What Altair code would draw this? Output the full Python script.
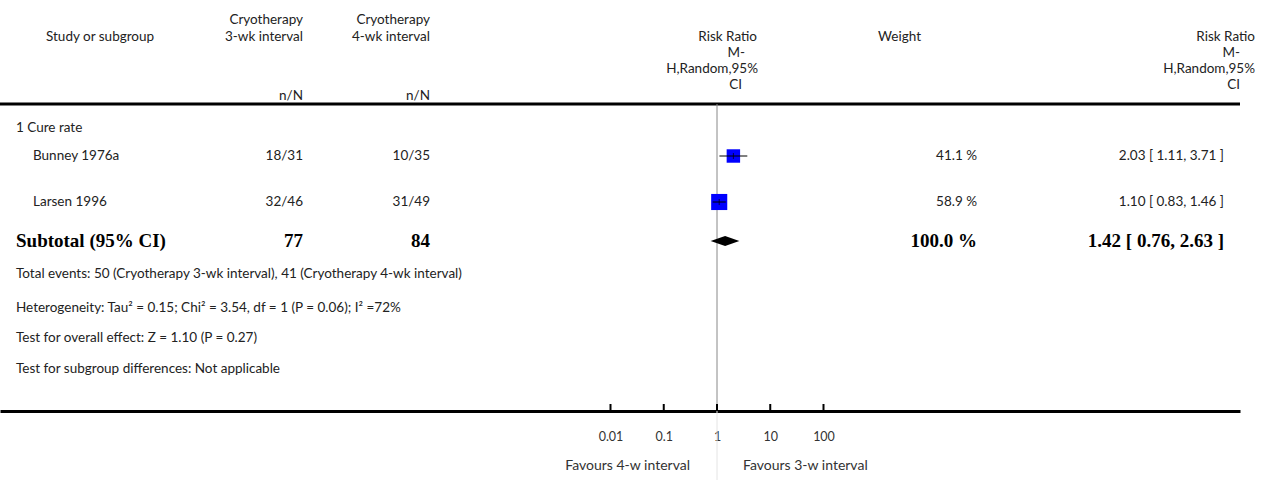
import altair as alt
import pandas as pd

# ---- study data -------------------------------------------------------
studies = ["Bunney 1976a", "Larsen 1996"]
events_3wk = [18, 32]
total_3wk = [31, 46]
events_4wk = [10, 31]
total_4wk = [35, 49]
risk_ratio = [2.03, 1.10]
ci_low = [1.11, 0.83]
ci_high = [3.71, 1.46]
weight_pct = [41.1, 58.9]

pooled_rr = 1.42
pooled_low = 0.76
pooled_high = 2.63

tick_values = [0.01, 0.1, 1, 10, 100]

heterogeneity = "Heterogeneity: Tau\u00b2 = 0.15; Chi\u00b2 = 3.54, df = 1 (P = 0.06); I\u00b2 =72%"
overall_effect = "Test for overall effect: Z = 1.10 (P = 0.27)"
subgroup_diff = "Test for subgroup differences: Not applicable"

# ---- layout -----------------------------------------------------------
W, H = 1240, 411
study_rows = [156, 202]
subtotal_row = 241
COL_N3, COL_N4, COL_W, COL_RR = 303, 430, 977, 1224
FONT = "Lato"
INK = "#222222"

# log scale placed so that RR = 1 sits at x = 717 and one decade spans ~53 px
decade = 53.25
one_px = 717
dom = [10 ** (-one_px / decade), 10 ** ((W - one_px) / decade)]
xscale = alt.Scale(type="log", domain=dom, nice=False, zero=False)

texts = []


def put(t, x, y, align="left", style="plain"):
    texts.append({"t": t, "x": x, "y": y, "align": align, "style": style})


# header
put("Study or subgroup", 46, 37)
put("Cryotherapy", COL_N3, 20, "right")
put("3-wk interval", COL_N3, 37, "right")
put("Cryotherapy", COL_N4, 20, "right")
put("4-wk interval", COL_N4, 37, "right")
put("n/N", COL_N3, 96, "right")
put("n/N", COL_N4, 96, "right")
put("Risk Ratio", 757, 37, "right")
put("M-", 745, 53, "right")
put("H,Random,95%", 758, 69, "right")
put("CI", 742, 85, "right")
put("Weight", 921, 37, "right")
put("Risk Ratio", 1255, 37, "right")
put("M-", 1240, 53, "right")
put("H,Random,95%", 1255, 69, "right")
put("CI", 1240, 85, "right")

# studies
put("1 Cure rate", 16, 128)
for i, s in enumerate(studies):
    y = study_rows[i]
    put(s, 33, y)
    put(f"{events_3wk[i]}/{total_3wk[i]}", COL_N3, y, "right")
    put(f"{events_4wk[i]}/{total_4wk[i]}", COL_N4, y, "right")
    put(f"{weight_pct[i]:.1f} %", COL_W, y, "right")
    put(f"{risk_ratio[i]:.2f} [ {ci_low[i]:.2f}, {ci_high[i]:.2f} ]", COL_RR, y, "right")

# subtotal
put("Subtotal (95% CI)", 16, subtotal_row, "left", "bold")
put(str(sum(total_3wk)), COL_N3, subtotal_row, "right", "bold")
put(str(sum(total_4wk)), COL_N4, subtotal_row, "right", "bold")
put(f"{sum(weight_pct):.1f} %", COL_W, subtotal_row, "right", "bold")
put(f"{pooled_rr:.2f} [ {pooled_low:.2f}, {pooled_high:.2f} ]", COL_RR, subtotal_row, "right", "bold")

put(f"Total events: {sum(events_3wk)} (Cryotherapy 3-wk interval), {sum(events_4wk)} (Cryotherapy 4-wk interval)", 16, 274)
put(heterogeneity, 16, 308)
put(overall_effect, 16, 338)
put(subgroup_diff, 16, 369)

put("Favours 4-w interval", 690, 466, "right", "small")
put("Favours 3-w interval", 743, 466, "left", "small")

tdf = pd.DataFrame(texts)

layers = []
for (align, style), grp in tdf.groupby(["align", "style"]):
    if style == "bold":
        mk = dict(font="Liberation Serif", fontWeight="bold", fontSize=19, color="#000000")
    elif style == "small":
        mk = dict(font=FONT, fontSize=14, color="#333333")
    else:
        mk = dict(font=FONT, fontSize=13.5, color=INK)
    layers.append(
        alt.Chart(grp).mark_text(align=align, baseline="middle", **mk).encode(
            x=alt.X("x:Q", scale=None, axis=None),
            y=alt.Y("y:Q", scale=None, axis=None),
            text="t:N",
        )
    )

# forest marks
sdf = pd.DataFrame({
    "rr": risk_ratio, "lo": ci_low, "hi": ci_high,
    "w": weight_pct, "row": study_rows,
})

axis_x = alt.Axis(
    values=tick_values, format="~g", ticks=False, grid=False, title=None,
    domainColor="#000000", domainWidth=3, labelFont=FONT, labelFontSize=12.5,
    labelColor="#333333", labelPadding=19, labelFlush=False,
)

null_line_top = alt.Chart(pd.DataFrame({"v": [1]})).mark_rule(color="#888888", strokeWidth=1).encode(
    x=alt.X("v:Q", scale=xscale, axis=axis_x), y=alt.value(104), y2=alt.value(H)
)
null_line_bottom = alt.Chart(pd.DataFrame({"v": [1]})).mark_rule(color="#e4e4e4", strokeWidth=1).encode(
    x=alt.X("v:Q", scale=xscale), y=alt.value(H), y2=alt.value(480)
)

squares = alt.Chart(sdf).mark_square(color="#0000ff", opacity=1).encode(
    x=alt.X("rr:Q", scale=xscale),
    y=alt.Y("row:Q", scale=None),
    size=alt.Size("w:Q", scale=alt.Scale(type="linear", domain=[0, 100], range=[0, 440]), legend=None),
)
ci = alt.Chart(sdf).mark_rule(color="#000000", strokeWidth=1).encode(
    x=alt.X("lo:Q", scale=xscale), x2="hi:Q", y=alt.Y("row:Q", scale=None)
)
centre = alt.Chart(sdf).mark_tick(color="#000000", orient="vertical", size=6, thickness=1).encode(
    x=alt.X("rr:Q", scale=xscale), y=alt.Y("row:Q", scale=None)
)

half = 5
ddf = pd.DataFrame({
    "x": [pooled_low, pooled_rr, pooled_high],
    "top": [subtotal_row, subtotal_row - half, subtotal_row],
    "bot": [subtotal_row, subtotal_row + half, subtotal_row],
})
diamond = alt.Chart(ddf).mark_area(color="#000000", orient="vertical").encode(
    x=alt.X("x:Q", scale=xscale), y=alt.Y("top:Q", scale=None), y2="bot:Q"
)

tick_df = pd.DataFrame({"v": tick_values})
tick_marks = alt.Chart(tick_df).mark_rule(color="#000000", strokeWidth=2).encode(
    x=alt.X("v:Q", scale=xscale), y=alt.value(H - 7), y2=alt.value(H)
)

top_line = alt.Chart(pd.DataFrame({"v": [0]})).mark_rule(color="#000000", strokeWidth=3).encode(
    x=alt.value(0), x2=alt.value(W), y=alt.value(104)
)

chart = alt.layer(
    top_line, null_line_top, null_line_bottom, squares, ci, centre, diamond, tick_marks, *layers
).properties(
    width=W, height=H,
    autosize=alt.AutoSizeParams(type="none"),
    padding={"left": 0, "top": 0, "right": 28, "bottom": 69},
    background="#ffffff",
).configure_view(stroke=None)

chart.save("out.html", embed_options={"renderer": "svg", "actions": False})
